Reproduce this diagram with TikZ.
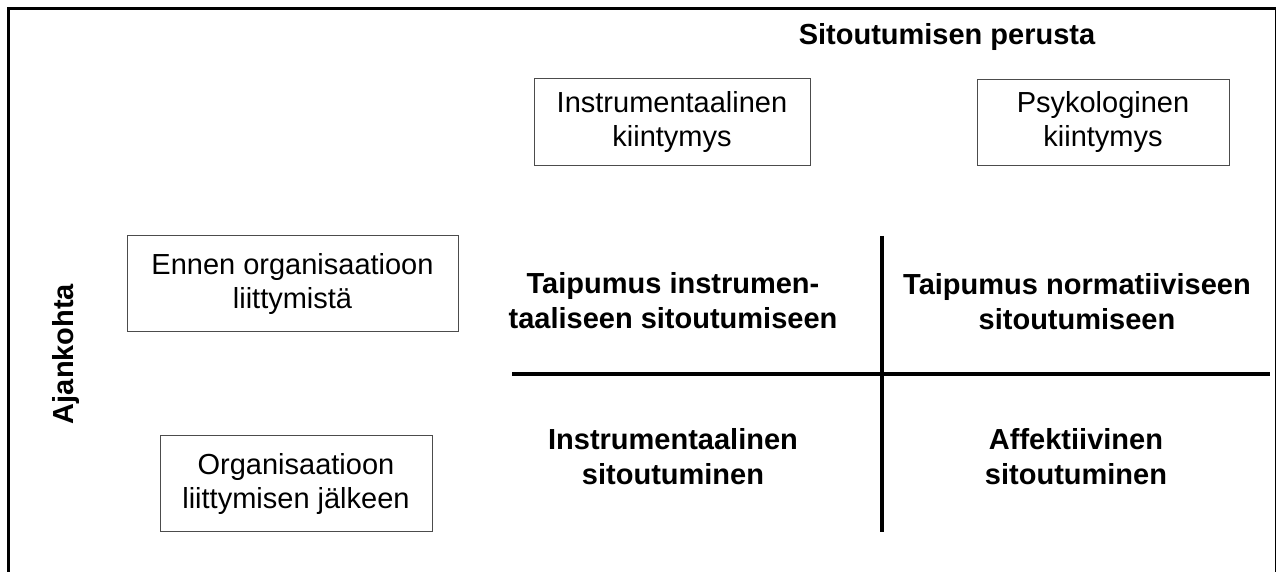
\documentclass[tikz,border=0pt]{standalone}
\usepackage{fontspec}
\setmainfont{Liberation Sans}
\usetikzlibrary{positioning}

\begin{document}
\begin{tikzpicture}[x=0.5pt,y=-0.5pt,thick,
    box node/.style={rectangle,draw=black!70,line width=0.5pt,inner sep=0pt,align=center,font=\fontsize{14.5}{17}\selectfont},
    head node/.style={inner sep=0pt,align=center,font=\fontsize{14.5}{17.5}\selectfont\bfseries},
    cross line/.style={line width=2pt}]
            \useasboundingbox (0,0) rectangle (1276,572);

            % frame
            \draw[line width=1.5pt] (8,572) -- (8,9) -- (1275.5,9);
            \draw[line width=0.6pt] (1275.5,9) -- (1275.5,572);

            \node[head node] (perusta) at (947,37) {Sitoutumisen perusta};
            \node[head node, rotate=90] (aika) at (66,354) {Ajankohta};

            \node[box node, minimum width=138pt, minimum height=43.5pt] (kI) at (672,122.5) {Instrumentaalinen\\kiintymys};
            \node[box node, minimum width=126pt, minimum height=43pt] (kP) [right=83pt of kI] {Psykologinen\\kiintymys};

            \node[box node, minimum width=165.5pt, minimum height=48pt] (ennen) at (292.5,284) {Ennen organisaatioon\\liittymistä};
            \node[box node, minimum width=136pt, minimum height=48pt] (jalkeen) at (296,484) {Organisaatioon\\liittymisen jälkeen};

            \node[head node] (TI) at (673,301) {Taipumus instrumen-\\taaliseen sitoutumiseen};
            \node[head node] (TN) at (1077,302) {Taipumus normatiiviseen\\sitoutumiseen};
            \node[head node] (SI) at (673,457) {Instrumentaalinen\\sitoutuminen};
            \node[head node] (SA) at (1076,457) {Affektiivinen\\sitoutuminen};

            \coordinate (vTop) at (882,236);
            \coordinate (vBot) at (882,532);
            \coordinate (hL) at (512,374);
            \coordinate (hR) at (1270,374);

            \draw[cross line] (vTop) -- (vBot);
            \draw[cross line] (hL) -- (hR);
\end{tikzpicture}
\end{document}
